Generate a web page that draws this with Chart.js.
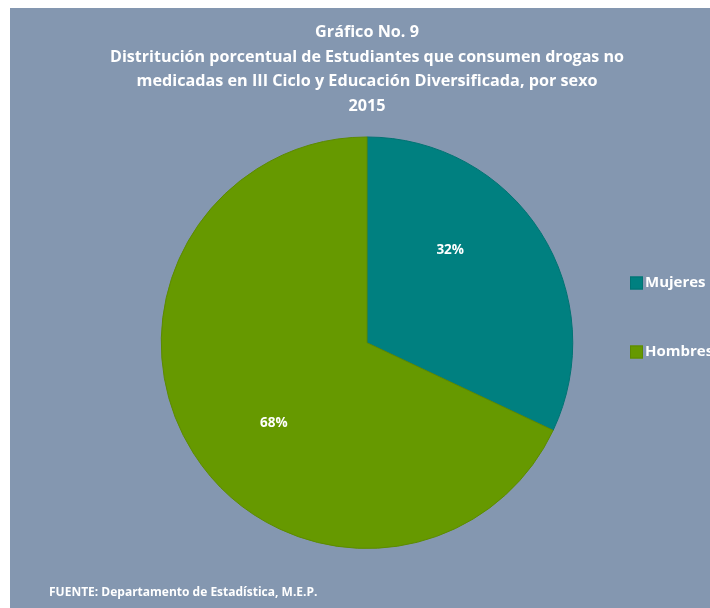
<!DOCTYPE html>
<html>
<head>
<meta charset="utf-8">
<script src="https://cdn.jsdelivr.net/npm/chart.js@4"></script>
<style>
  body { margin: 0; background: #ffffff; }
  #wrap { position: absolute; left: 10px; top: 8px; width: 700px; height: 600px; background: #8497b0; overflow: hidden; }
</style>
</head>
<body>
<div id="wrap"><canvas id="myChart" width="700" height="600"></canvas></div>
<script>
// Data
const categories = ["Mujeres", "Hombres"];
const percentages = [32, 68];
const sliceColors = ["#008080", "#669900"];
const sliceBorders = ["#007373", "#5c8a00"];
const titleLines = [
  "Gráfico No. 9",
  "Distritución porcentual de Estudiantes que consumen drogas no",
  "medicadas en III Ciclo y Educación Diversificada, por sexo",
  "2015"
];
const sourceNote = "FUENTE: Departamento de Estadística, M.E.P.";

const FONT = "'Open Sans', Lato, sans-serif";

// Percent labels inside the slices, legend on the right, source at the bottom.
const extrasPlugin = {
  id: "extras",
  afterDatasetsDraw(chart) {
    const ctx = chart.ctx;
    const meta = chart.getDatasetMeta(0);
    ctx.save();
    ctx.fillStyle = "#ffffff";
    ctx.font = "bold 13.5px " + FONT;
    ctx.textAlign = "center";
    ctx.textBaseline = "middle";
    meta.data.forEach((arc, i) => {
      const p = arc.getProps(["x", "y", "startAngle", "endAngle", "outerRadius"], true);
      const mid = (p.startAngle + p.endAngle) / 2 - 12 * Math.PI / 180;
      const r = p.outerRadius * 0.6;
      ctx.fillText(percentages[i] + "%", p.x + Math.cos(mid) * r - 5, p.y + Math.sin(mid) * r - 6);
    });

    // legend
    ctx.textAlign = "left";
    ctx.font = "bold 15px " + FONT;
    categories.forEach((c, i) => {
      const y = 275 + i * 69;
      ctx.fillStyle = sliceColors[i];
      ctx.fillRect(620, y - 6.5, 13, 13);
      ctx.strokeStyle = sliceBorders[i];
      ctx.lineWidth = 1;
      ctx.strokeRect(620.5, y - 6, 12, 12);
      ctx.fillStyle = "#ffffff";
      ctx.fillText(c, 635, y);
    });

    // source
    ctx.font = "bold 12px " + FONT;
    ctx.fillText(sourceNote, 39, 585);
    ctx.restore();
  }
};

new Chart(document.getElementById("myChart"), {
  type: "pie",
  data: {
    labels: categories,
    datasets: [{
      data: percentages,
      backgroundColor: sliceColors,
      borderColor: sliceBorders,
      borderWidth: 1
    }]
  },
  options: {
    responsive: false,
    animation: false,
    layout: { padding: { top: 12, left: 100, right: 86, bottom: 59 } },
    plugins: {
      legend: { display: false },
      tooltip: { enabled: false },
      title: {
        display: true,
        text: titleLines,
        color: "#ffffff",
        font: { family: FONT, size: 16.2, weight: "bold", lineHeight: 1.52 },
        padding: { top: 0, bottom: 18 }
      }
    }
  },
  plugins: [extrasPlugin]
});
</script>
</body>
</html>
